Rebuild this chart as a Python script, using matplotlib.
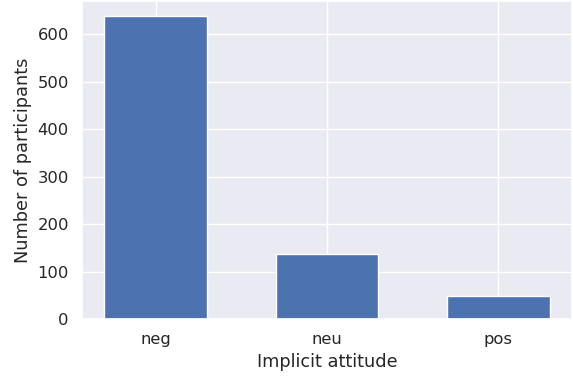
import matplotlib
matplotlib.use("Agg")
import matplotlib.pyplot as plt
import seaborn as sns

# Participants per implicit attitude group
attitudes = ["neg", "neu", "pos"]
counts = [638, 137, 49]

sns.set_theme(rc={"axes.labelsize": 12.8, "xtick.labelsize": 11.8, "ytick.labelsize": 11.8})

fig = plt.figure(figsize=(5.73, 3.77), dpi=100)
ax = fig.add_axes([82 / 573, 58 / 377, 490 / 573, 318 / 377])
ax.bar(attitudes, counts, width=0.6, color="#4c72b0")
ax.set_xlabel("Implicit attitude")
ax.set_ylabel("Number of participants")
fig.savefig("out.png")
